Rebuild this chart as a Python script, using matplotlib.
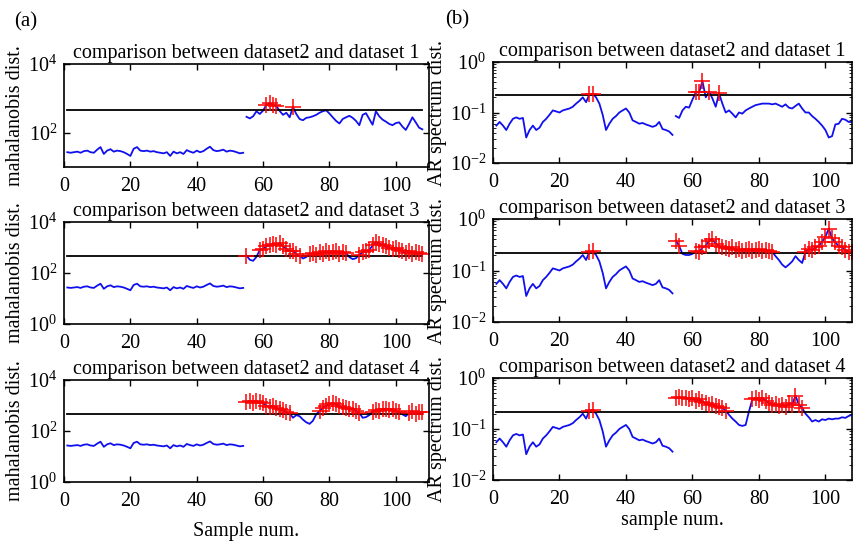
import matplotlib
matplotlib.use('Agg')
import matplotlib.pyplot as plt
import numpy as np
from matplotlib.ticker import LogFormatterSciNotation, LogLocator, NullLocator

plt.rcParams['font.family'] = ['Liberation Serif', 'DejaVu Serif']
plt.rcParams['mathtext.fontset'] = 'custom'
plt.rcParams['mathtext.rm'] = 'Liberation Serif'
plt.rcParams['mathtext.it'] = 'Liberation Serif:italic'

# 样本编号
x_base = np.arange(1, 55)
x_test = np.arange(55, 109)

# (a) 马氏距离
maha_base = [27, 26, 27, 28, 26, 29, 30, 27, 26, 32, 38, 24, 30, 33, 28, 30, 29, 27, 24, 21,
             34, 38, 30, 29, 30, 28, 29, 27, 26, 25, 27, 21, 28, 25, 27, 24, 31, 28, 26, 30,
             27, 29, 34, 39, 31, 29, 30, 32, 28, 30, 29, 27, 25, 26]
maha_test1 = [290, 260, 300, 420, 350, 440, 650, 720, 640, 600, 430, 330, 380, 280, 560, 350,
              250, 230, 270, 280, 300, 330, 380, 420, 450, 360, 280, 220, 185, 250, 280, 310,
              270, 220, 165, 330, 370, 250, 170, 420, 300, 240, 210, 180, 165, 190, 200, 150,
              120, 180, 280, 200, 140, 125]
maha_test3 = [480, 330, 300, 430, 800, 900, 1100, 1250, 1400, 1200, 1500, 1100, 900, 700, 750,
              550, 480, 370, 420, 550, 600, 520, 650, 580, 700, 600, 650, 720, 560, 650, 600,
              420, 350, 380, 520, 650, 700, 800, 1200, 1600, 1400, 1300, 1100, 1000, 900, 1000,
              800, 700, 600, 750, 560, 650, 600, 580]
maha_test4 = [1400, 1500, 1300, 1500, 1350, 1200, 1000, 900, 1000, 800, 700, 650, 560, 500,
              330, 420, 380, 280, 220, 190, 250, 450, 600, 800, 1000, 1100, 1250, 1100, 950,
              850, 800, 700, 750, 600, 520, 330, 350, 420, 550, 650, 600, 700, 750, 650, 700,
              600, 550, 450, 380, 520, 600, 480, 550, 560]
maha_thr = 470

# (b) AR谱距离
ar_base = [0.055, 0.065, 0.055, 0.045, 0.06, 0.075, 0.08, 0.075, 0.078, 0.032, 0.045, 0.055,
           0.045, 0.05, 0.065, 0.075, 0.09, 0.11, 0.105, 0.10, 0.11, 0.115, 0.12, 0.13, 0.15,
           0.17, 0.20, 0.16, 0.23, 0.235, 0.20, 0.15, 0.09, 0.045, 0.06, 0.075, 0.085, 0.10,
           0.11, 0.12, 0.10, 0.07, 0.065, 0.06, 0.062, 0.058, 0.055, 0.052, 0.055, 0.065,
           0.047, 0.045, 0.042, 0.036]
ar_test1 = [0.085, 0.078, 0.11, 0.13, 0.125, 0.18, 0.25, 0.25, 0.42, 0.20, 0.26, 0.19, 0.13,
            0.24, 0.15, 0.10, 0.11, 0.095, 0.08, 0.10, 0.095, 0.11, 0.12, 0.13, 0.14, 0.145,
            0.15, 0.15, 0.15, 0.145, 0.15, 0.14, 0.13, 0.145, 0.125, 0.12, 0.135, 0.15, 0.12,
            0.10, 0.10, 0.085, 0.075, 0.065, 0.055, 0.045, 0.032, 0.034, 0.058, 0.06, 0.075,
            0.072, 0.065, 0.065]
ar_test3 = [0.38, 0.30, 0.21, 0.20, 0.20, 0.21, 0.24, 0.23, 0.28, 0.30, 0.38, 0.40, 0.33,
            0.30, 0.28, 0.27, 0.26, 0.28, 0.25, 0.26, 0.24, 0.25, 0.26, 0.24, 0.25, 0.26,
            0.24, 0.25, 0.24, 0.23, 0.19, 0.16, 0.13, 0.115, 0.13, 0.15, 0.19, 0.16, 0.14,
            0.23, 0.26, 0.25, 0.28, 0.30, 0.36, 0.45, 0.65, 0.42, 0.35, 0.30, 0.28, 0.25,
            0.23, 0.225]
ar_test4 = [0.40, 0.42, 0.41, 0.40, 0.38, 0.40, 0.36, 0.38, 0.34, 0.32, 0.30, 0.31, 0.28,
            0.27, 0.26, 0.23, 0.19, 0.16, 0.14, 0.12, 0.115, 0.12, 0.22, 0.38, 0.40, 0.37,
            0.40, 0.36, 0.33, 0.30, 0.31, 0.28, 0.30, 0.27, 0.32, 0.30, 0.45, 0.30, 0.26,
            0.20, 0.17, 0.14, 0.15, 0.14, 0.155, 0.15, 0.16, 0.155, 0.16, 0.16, 0.17, 0.165,
            0.18, 0.19]
ar_thr = 0.22

titles = ['comparison between dataset2 and dataset 1',
          'comparison between dataset2 and dataset 3',
          'comparison between dataset2 and dataset 4']

W, H = 861, 546
fig = plt.figure(figsize=(W / 100, H / 100), dpi=100)

# 每行子图的上下边界（像素）
left_rows = [(64, 167), (222, 324), (380, 482)]
right_rows = [(62, 163), (219, 322), (378, 480)]


def draw(ax, base, test, thr, title):
    base = np.array(base, dtype=float)
    test = np.array(test, dtype=float)
    ax.plot(x_base, base, color='#1010ee', lw=1.3)
    ax.plot(x_test, test, color='#1010ee', lw=1.3)
    ax.plot([1, 108], [thr, thr], color='black', lw=1.3)
    xs = np.concatenate([x_base, x_test])
    ys = np.concatenate([base, test])
    m = ys > thr
    ax.plot(xs[m], ys[m], '+', color='red', ms=11, mew=1.1, ls='none')
    ax.set_yscale('log')
    ax.set_title(title, fontsize=14.5, pad=4)
    ax.set_xticks([0, 20, 40, 60, 80, 100])
    ax.tick_params(direction='in', top=True, right=True, labelsize=14.5, length=4,
                   width=1, pad=5)
    ax.tick_params(axis='x', pad=7)
    ax.tick_params(which='minor', direction='in', top=True, right=True, length=2.5)
    for s in ax.spines.values():
        s.set_linewidth(1.2)


maha_tests = [maha_test1, maha_test3, maha_test4]
ar_tests = [ar_test1, ar_test3, ar_test4]
maha_ylims = [(10, 1e4), (1, 1e4), (1, 1e4)]

for i in range(3):
    t, b = left_rows[i]
    ax = fig.add_axes([64 / W, 1 - b / H, 365 / W, (b - t) / H])
    draw(ax, maha_base, maha_tests[i], maha_thr, titles[i])
    ax.set_xlim(0, 110)
    ax.set_ylim(*maha_ylims[i])
    ax.yaxis.set_major_locator(LogLocator(base=100))
    ax.yaxis.set_major_formatter(LogFormatterSciNotation(base=10))
    ax.yaxis.set_minor_locator(NullLocator())
    ax.set_ylabel('mahalanobis dist.', fontsize=14.5, labelpad=2)
    if i == 2:
        ax.set_xlabel('Sample num.', fontsize=14.5, labelpad=8)

    t, b = right_rows[i]
    ax = fig.add_axes([493 / W, 1 - b / H, 359 / W, (b - t) / H])
    draw(ax, ar_base, ar_tests[i], ar_thr, titles[i])
    ax.set_xlim(0, 108)
    ax.set_ylim(1e-2, 1)
    ax.yaxis.set_major_locator(LogLocator(base=10))
    ax.yaxis.set_minor_locator(LogLocator(base=10, subs=np.arange(2, 10)))
    ax.yaxis.set_major_formatter(LogFormatterSciNotation(base=10))
    ax.set_ylabel('AR spectrum dist.', fontsize=14.5, labelpad=2)
    if i == 2:
        ax.set_xlabel('sample num.', fontsize=14.5, labelpad=2)

fig.text(14 / W, 1 - 22 / H, '(a)', fontsize=15, va='center', ha='left')
fig.text(445 / W, 1 - 20 / H, '(b)', fontsize=15, va='center', ha='left')

fig.savefig('out.png', dpi=100)
